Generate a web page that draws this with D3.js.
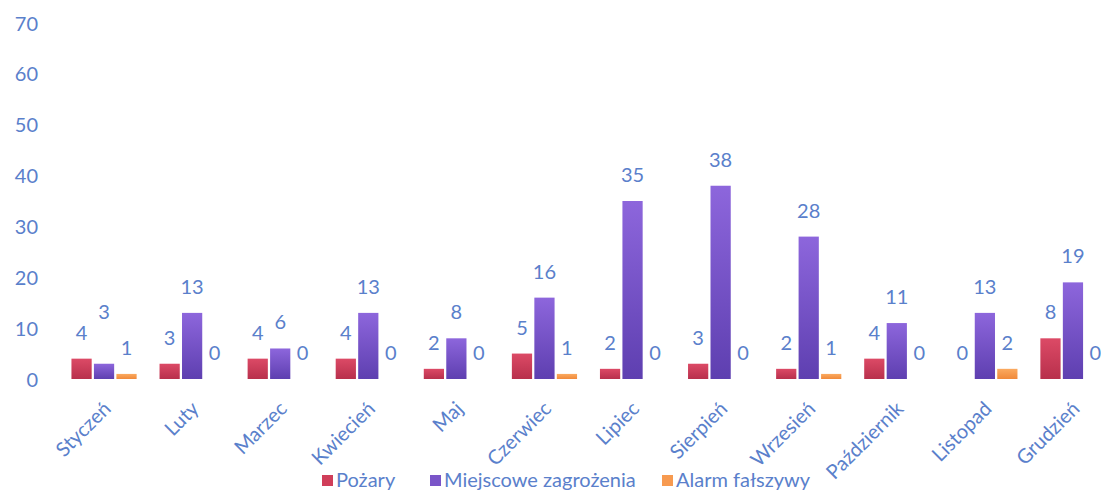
<!DOCTYPE html>
<html><head><meta charset="utf-8">
<script src="https://cdn.jsdelivr.net/npm/d3@7"></script>
<style>body{margin:0;background:#fff}svg{display:block}</style>
</head><body><svg id="c" width="1101" height="490"></svg>
<script>
const months = ["Styczeń","Luty","Marzec","Kwiecień","Maj","Czerwiec","Lipiec","Sierpień","Wrzesień","Październik","Listopad","Grudzień"];
const seriesNames = ["Pożary","Miejscowe zagrożenia","Alarm fałszywy"];
const pozary = [4,3,4,4,2,5,2,3,2,4,0,8];
const miejscowe = [3,13,6,13,8,16,35,38,28,11,13,19];
const alarm = [1,0,0,0,0,1,0,0,1,0,2,0];
const yTicks = [0,10,20,30,40,50,60,70];

const series = [pozary, miejscowe, alarm];
const colors = [["#dc4a66","#b8304c"],["#8d66dc","#5e3fb0"],["#fbaa60","#f0893a"]];
const legendColors = ["#d03e59","#7a55c8","#f79a50"];
const txt = "#5a80cb";
const font = "Lato, 'Open Sans', sans-serif";
const fs = "20px";

const svg = d3.select("#c");
const defs = svg.append("defs");
colors.forEach((c,i)=>{
  const g = defs.append("linearGradient").attr("id","g"+i).attr("x1",0).attr("y1",0).attr("x2",0).attr("y2",1);
  g.append("stop").attr("offset","0%").attr("stop-color",c[0]);
  g.append("stop").attr("offset","100%").attr("stop-color",c[1]);
});

const y = d3.scaleLinear().domain([0,70]).range([379,23]);
const x0 = d3.scaleBand().domain(months).range([60,1117]).paddingInner(0.26).paddingOuter(0.13);
const x1 = d3.scaleBand().domain([0,1,2]).range([0,x0.bandwidth()]).paddingInner(0.1);

// y axis labels
const yAxis = d3.axisLeft(y).tickValues(yTicks).tickSize(0).tickPadding(0);
const ya = svg.append("g").attr("transform","translate(38,0)").call(yAxis);
ya.select(".domain").remove();
ya.selectAll("text").attr("fill",txt).style("font-family",font).style("font-size",fs).attr("dy","0.35em");

// bars
const groups = svg.append("g").selectAll("g").data(months).join("g")
  .attr("transform",d=>`translate(${x0(d)},0)`);
groups.each(function(m,mi){
  const g = d3.select(this);
  series.forEach((s,si)=>{
    const v = s[mi];
    const h = Math.max(y(0)-y(v), 0);
    if (v>0) {
      g.append("rect").attr("x",x1(si)).attr("width",x1.bandwidth())
        .attr("y",y(v)).attr("height",h).attr("fill",`url(#g${si})`);
    }
    let ly = y(v) - 19;
    if (si===1 && mi===0) ly -= 26;
    g.append("text").attr("x",x1(si)+x1.bandwidth()/2).attr("y",ly)
      .attr("text-anchor","middle").attr("fill",txt)
      .style("font-family",font).style("font-size",fs).text(v);
  });
});

// x axis labels
const xa = svg.append("g").attr("transform","translate(0,379)")
  .call(d3.axisBottom(x0).tickSize(0).tickPadding(0));
xa.select(".domain").remove();
xa.selectAll("text").attr("fill",txt).style("font-family",font).style("font-size",fs)
  .attr("text-anchor","end").attr("dy",0).attr("y",0)
  .attr("transform","translate(8,31) rotate(-45)");

// legend
const legX = [322,430,662];
const leg = svg.append("g");
seriesNames.forEach((n,i)=>{
  leg.append("rect").attr("x",legX[i]).attr("y",475).attr("width",11).attr("height",11).attr("fill",legendColors[i]);
  leg.append("text").attr("x",legX[i]+14).attr("y",487).attr("fill",txt)
    .style("font-family",font).style("font-size",fs).text(n);
});
</script></body></html>
